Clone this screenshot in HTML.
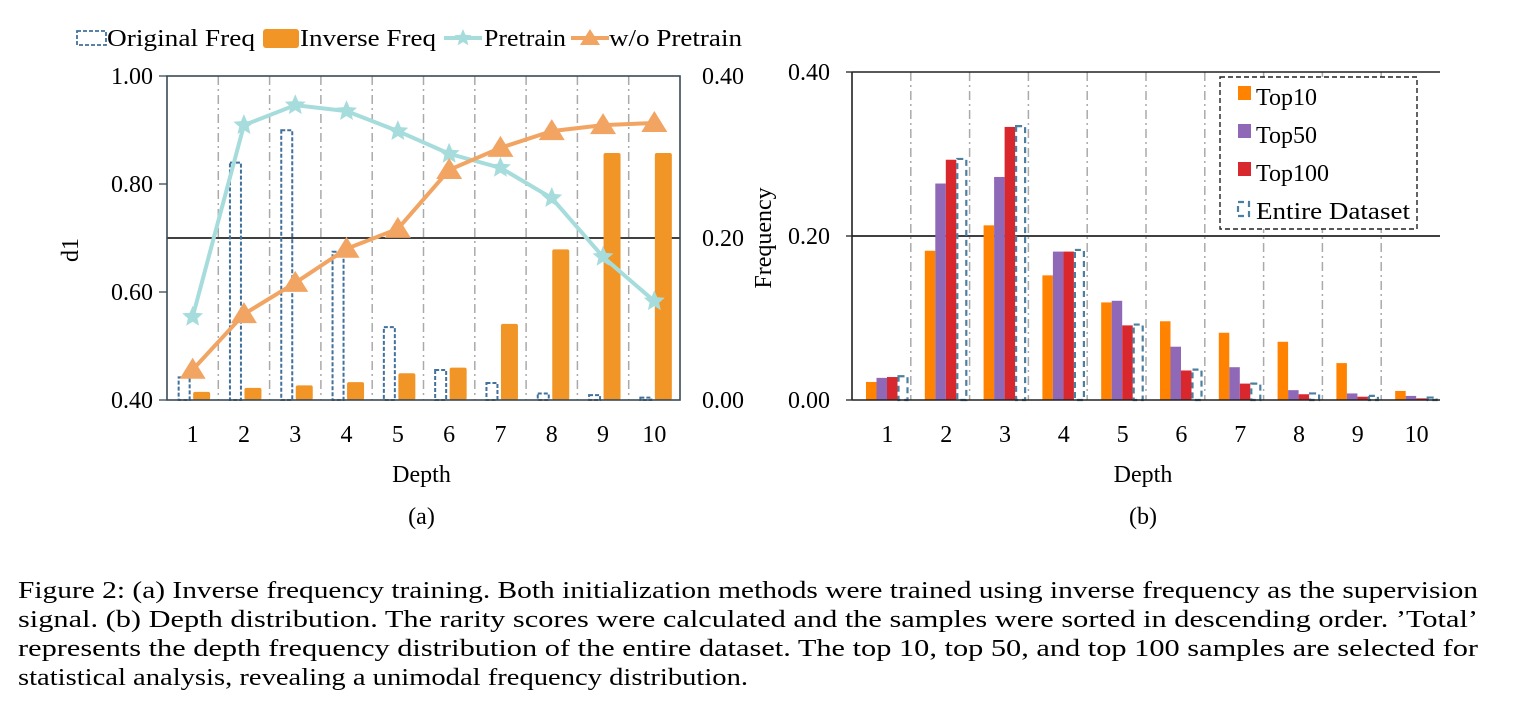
<!DOCTYPE html>
<html><head><meta charset="utf-8"><style>
html,body{margin:0;padding:0;background:#fff;}
svg{display:block;}
svg text{font-family:"Liberation Serif","Times New Roman",serif;}
</style></head><body>
<svg id="fig" width="1530" height="715" viewBox="0 0 1530 715">
<g id="left"></g>
<g id="right"></g>
<g font-size="24" fill="#000">
<text x="18" y="598" textLength="1460" lengthAdjust="spacingAndGlyphs">Figure 2: (a) Inverse frequency training. Both initialization methods were trained using inverse frequency as the supervision</text>
<text x="18" y="627" textLength="1460" lengthAdjust="spacingAndGlyphs">signal. (b) Depth distribution. The rarity scores were calculated and the samples were sorted in descending order. ’Total’</text>
<text x="18" y="656" textLength="1460" lengthAdjust="spacingAndGlyphs">represents the depth frequency distribution of the entire dataset. The top 10, top 50, and top 100 samples are selected for</text>
<text x="18" y="685" textLength="730" lengthAdjust="spacingAndGlyphs">statistical analysis, revealing a unimodal frequency distribution.</text>
</g>
</svg>
<script>
const categories = ["1","2","3","4","5","6","7","8","9","10"];
const pretrain = [0.554,0.909,0.946,0.935,0.898,0.856,0.830,0.774,0.665,0.583];
const woPretrain = [0.456,0.559,0.617,0.680,0.717,0.826,0.867,0.898,0.909,0.913];
const originalFreq = [0.028,0.293,0.333,0.183,0.090,0.037,0.021,0.008,0.006,0.003];
const inverseFreq = [0.010,0.015,0.018,0.022,0.033,0.040,0.094,0.186,0.305,0.305];
const leftTicks = ["0.40","0.60","0.80","1.00"];
const rightTicksA = ["0.00","0.20","0.40"];
const top10 = [0.022,0.182,0.213,0.152,0.119,0.096,0.082,0.071,0.045,0.011];
const top50 = [0.027,0.264,0.272,0.181,0.121,0.065,0.040,0.012,0.008,0.005];
const top100 = [0.028,0.293,0.333,0.181,0.091,0.036,0.020,0.007,0.004,0.002];
const entire = [0.029,0.294,0.334,0.183,0.092,0.037,0.020,0.008,0.005,0.003];
const ticksB = ["0.00","0.20","0.40"];

const NS="http://www.w3.org/2000/svg";
function mk(parent,tag,attrs,txt){const e=document.createElementNS(NS,tag);for(const k in attrs)e.setAttribute(k,attrs[k]);if(txt!==undefined)e.textContent=txt;parent.appendChild(e);return e;}
function star(cx,cy,r){let p=[];for(let i=0;i<10;i++){const a=-Math.PI/2+i*Math.PI/5;const rr=i%2?r*0.45:r;p.push((cx+rr*Math.cos(a)).toFixed(1)+","+(cy+rr*Math.sin(a)).toFixed(1));}return p.join(" ");}
const FS=24;

// ---- Chart A ----
const L=document.getElementById('left');
const ax={x0:167,x1:680,y0:76,y1:400};
const cw=(ax.x1-ax.x0)/categories.length;
const yL=v=>ax.y1-(v-0.4)/0.6*(ax.y1-ax.y0);
const yR=v=>ax.y1-v/0.4*(ax.y1-ax.y0);
const cx=i=>ax.x0+cw*(i+0.5);
for(let i=1;i<categories.length;i++){const g=mk(L,'line',{x1:ax.x0+cw*i,x2:ax.x0+cw*i,y1:ax.y0,y2:ax.y1,stroke:'#aaa','stroke-width':1.5,'stroke-dasharray':'9,4,2,4'});}
mk(L,'line',{x1:ax.x0,x2:ax.x1,y1:yL(0.7),y2:yL(0.7),stroke:'#000','stroke-width':1.5});
categories.forEach((c,i)=>{
 const b=mk(L,'rect',{x:cx(i)-14,y:yR(originalFreq[i]),width:11,height:ax.y1-yR(originalFreq[i]),fill:'none',stroke:'#41719c','stroke-width':2,'stroke-dasharray':'4,2'});
 
 const b2=mk(L,'rect',{x:cx(i)+0.5,y:yR(inverseFreq[i]),width:17,height:ax.y1-yR(inverseFreq[i]),rx:2,fill:'#f19527'});
 
});
mk(L,'rect',{x:ax.x0,y:ax.y0,width:ax.x1-ax.x0,height:ax.y1-ax.y0,fill:'none',stroke:'#3a4a55','stroke-width':1.6});
const pl1=mk(L,'polyline',{points:pretrain.map((v,i)=>cx(i)+","+yL(v)).join(" "),fill:'none',stroke:'#a6dcdc','stroke-width':4});

const pl2=mk(L,'polyline',{points:woPretrain.map((v,i)=>cx(i)+","+yL(v)).join(" "),fill:'none',stroke:'#f2a462','stroke-width':4});

pretrain.forEach((v,i)=>{const s=mk(L,'polygon',{points:star(cx(i),yL(v),11),fill:'#a6dcdc'});});
woPretrain.forEach((v,i)=>{const x=cx(i),y=yL(v);const s=mk(L,'polygon',{points:`${x},${y-12} ${x-13},${y+9} ${x+13},${y+9}`,fill:'#f2a462'});});
leftTicks.forEach(t=>{const y=yL(parseFloat(t));mk(L,'line',{x1:ax.x0-8,x2:ax.x0,y1:y,y2:y,stroke:'#3a4a55','stroke-width':1.3});const e=mk(L,'text',{x:ax.x0-14,y:y+8,'text-anchor':'end','font-size':FS},t);});
rightTicksA.forEach(t=>{const y=yR(parseFloat(t));const e=mk(L,'text',{x:ax.x1+22,y:y+8,'font-size':FS},t);});
categories.forEach((c,i)=>{const e=mk(L,'text',{x:cx(i),y:442,'text-anchor':'middle','font-size':FS},c);});
mk(L,'text',{x:ax.x0+(ax.x1-ax.x0)/2-2,y:482,'text-anchor':'middle','font-size':FS},'Depth');
mk(L,'text',{x:0,y:0,transform:'translate(78,250) rotate(-90)','text-anchor':'middle','font-size':FS},'d1');
mk(L,'text',{x:ax.x0+(ax.x1-ax.x0)/2-2,y:524,'text-anchor':'middle','font-size':FS},'(a)');
// legend A
const lg=mk(L,'g',{});
mk(lg,'rect',{x:77,y:31,width:29,height:14,fill:'none',stroke:'#41719c','stroke-width':1.8,'stroke-dasharray':'4,2'});
mk(lg,'text',{x:107,y:46,'font-size':FS,textLength:148,lengthAdjust:'spacingAndGlyphs'},'Original Freq');
mk(lg,'rect',{x:263,y:29,width:36,height:19,rx:3,fill:'#f19527'});
mk(lg,'text',{x:300,y:46,'font-size':FS,textLength:136,lengthAdjust:'spacingAndGlyphs'},'Inverse Freq');
mk(lg,'line',{x1:444,x2:482,y1:38,y2:38,stroke:'#a6dcdc','stroke-width':4});
mk(lg,'polygon',{points:star(463,38,9),fill:'#a6dcdc'});
mk(lg,'text',{x:484,y:46,'font-size':FS,textLength:82,lengthAdjust:'spacingAndGlyphs'},'Pretrain');
mk(lg,'line',{x1:571,x2:609,y1:38,y2:38,stroke:'#f2a462','stroke-width':4});
mk(lg,'polygon',{points:'590,29 580,45 600,45',fill:'#f2a462'});
mk(lg,'text',{x:609,y:46,'font-size':FS,textLength:133,lengthAdjust:'spacingAndGlyphs'},'w/o Pretrain');

// ---- Chart B ----
const R=document.getElementById('right');
const bx={x0:852,x1:1440,y0:72,y1:400};
const bw=(bx.x1-bx.x0)/categories.length;
const yB=v=>bx.y1-v/0.4*(bx.y1-bx.y0);
for(let i=1;i<categories.length;i++){const g=mk(R,'line',{x1:bx.x0+bw*i,x2:bx.x0+bw*i,y1:bx.y0,y2:bx.y1,stroke:'#aaa','stroke-width':1.5,'stroke-dasharray':'9,4,2,4'});}
mk(R,'line',{x1:bx.x0,x2:bx.x1,y1:yB(0.2),y2:yB(0.2),stroke:'#000','stroke-width':1.5});
const series=[[top10,'#ff8200'],[top50,'#8f69b8'],[top100,'#d9272e']];
categories.forEach((c,i)=>{
 const left=bx.x0+bw*i+14;
 series.forEach(([arr,col],k)=>{const r=mk(R,'rect',{x:left+k*10.5,y:yB(arr[i]),width:10.5,height:bx.y1-yB(arr[i]),fill:col});});
 const r=mk(R,'rect',{x:left+31.5+1,y:yB(entire[i]),width:9,height:bx.y1-yB(entire[i]),fill:'none',stroke:'#4d7fa0','stroke-width':2.2,'stroke-dasharray':'6,4'});
 
});
mk(R,'line',{x1:bx.x0,x2:bx.x0,y1:bx.y0,y2:bx.y1,stroke:'#222','stroke-width':1.6});
mk(R,'line',{x1:bx.x0,x2:bx.x1,y1:bx.y1,y2:bx.y1,stroke:'#222','stroke-width':1.6});
mk(R,'line',{x1:bx.x0,x2:bx.x1,y1:bx.y0,y2:bx.y0,stroke:'#222','stroke-width':1.4});
ticksB.forEach(t=>{const y=yB(parseFloat(t));mk(R,'line',{x1:bx.x0-6,x2:bx.x0,y1:y,y2:y,stroke:'#222','stroke-width':1.3});const e=mk(R,'text',{x:bx.x0-22,y:y+8,'text-anchor':'end','font-size':FS},t);});
categories.forEach((c,i)=>{const e=mk(R,'text',{x:bx.x0+bw*(i+0.5)+6,y:442,'text-anchor':'middle','font-size':FS},c);});
mk(R,'text',{x:1143,y:482,'text-anchor':'middle','font-size':FS},'Depth');
mk(R,'text',{x:0,y:0,transform:'translate(771,238) rotate(-90)','text-anchor':'middle','font-size':FS},'Frequency');
mk(R,'text',{x:1143,y:524,'text-anchor':'middle','font-size':FS},'(b)');
const lb=mk(R,'g',{});
mk(lb,'rect',{x:1220,y:77,width:197,height:152,fill:'#fff',stroke:'#222','stroke-width':1.4,'stroke-dasharray':'5,3'});
[['Top10','#ff8200',100],['Top50','#8f69b8',138],['Top100','#d9272e',176]].forEach(([t,c,y])=>{mk(lb,'rect',{x:1238,y:y-14,width:13,height:14,fill:c});mk(lb,'text',{x:1256,y:y+5,'font-size':FS},t);});
mk(lb,'rect',{x:1238,y:202,width:11,height:14,fill:'none',stroke:'#4d7fa0','stroke-width':2.2,'stroke-dasharray':'6,4'});
mk(lb,'text',{x:1256,y:219,'font-size':FS,textLength:154,lengthAdjust:'spacingAndGlyphs'},'Entire Dataset');
</script>
</body></html>
